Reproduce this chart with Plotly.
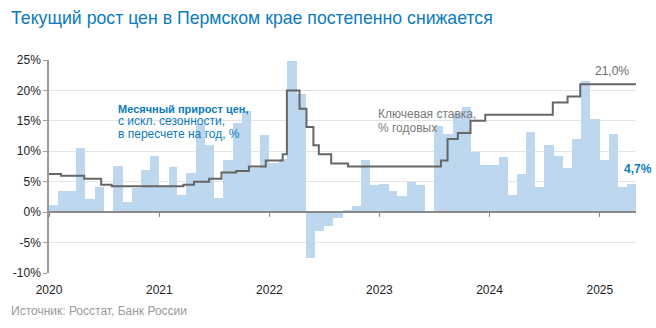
import pandas as pd
import plotly.graph_objects as go

# Monthly price growth, SA, annualized, % (Jan 2020 .. Apr 2025)
months = pd.date_range("2020-01-01", periods=64, freq="MS")
cpi_saar = [
    1.2, 3.5, 3.5, 10.6, 2.1, 4.1, 0.0, 7.6, 1.7, 4.0, 7.0, 9.3,      # 2020
    4.2, 7.4, 2.8, 6.4, 14.5, 11.0, 2.3, 8.6, 14.6, 16.6, 7.2, 12.6,  # 2021
    8.0, 8.7, 24.9, 19.4, -7.6, -3.1, -2.2, -1.0, 0.4, 1.0, 8.5, 4.4, # 2022
    4.7, 3.4, 2.6, 5.0, 4.5, 0.1, 14.1, 12.9, 16.3, 17.3, 9.9, 7.7,   # 2023
    7.8, 9.0, 2.8, 6.3, 13.2, 4.2, 11.1, 9.3, 7.2, 12.1, 21.6, 15.3,  # 2024
    8.5, 12.9, 4.2, 4.7,                                              # 2025
]

# Key rate (change dates and levels), % per annum
rate_dates = ["2020-01-01", "2020-02-10", "2020-04-27", "2020-06-22", "2020-07-27",
              "2021-03-22", "2021-04-26", "2021-06-15", "2021-07-26", "2021-09-13",
              "2021-10-25", "2021-12-20", "2022-02-14", "2022-02-28", "2022-04-11",
              "2022-05-04", "2022-05-27", "2022-06-14", "2022-07-25", "2022-09-19",
              "2023-07-24", "2023-08-15", "2023-09-18", "2023-10-30", "2023-12-18",
              "2024-07-29", "2024-09-16", "2024-10-28", "2025-05-01"]
rate_vals = [6.25, 6.0, 5.5, 4.5, 4.25,
             4.5, 5.0, 5.5, 6.5, 6.75,
             7.5, 8.5, 9.5, 20.0, 17.0,
             14.0, 11.0, 9.5, 8.0, 7.5,
             8.5, 12.0, 13.0, 15.0, 16.0,
             18.0, 19.0, 21.0, 21.0]

y_ticks = [-10, -5, 0, 5, 10, 15, 20, 25]
y_labels = ["-10%", "-5%", "0%", "5%", "10%", "15%", "20%", "25%"]

title = "Текущий рост цен в Пермском крае постепенно снижается"
source = "Источник: Росстат, Банк России"
cpi_label = ["<b>Месячный прирост цен,</b>", "с искл. сезонности,", "в пересчете на год, %"]
rate_label = ["Ключевая ставка,", "% годовых"]

nexts = months + pd.offsets.MonthBegin(1)
mids = months + (nexts - months) / 2
widths = [(n - m).total_seconds() * 1000 for m, n in zip(months, nexts)]

BAR = "#bdd7ee"
LINE = "#666666"
BLUE = "#0b7bbd"
FONT = "Liberation Sans"

# plot area in pixels
L, R, T, B = 49, 20, 60, 55
W, H = 656, 328
PW, PH = W - L - R, H - T - B


def px(x):
    return (x - L) / PW


def py(y):
    return (H - B - y) / PH


fig = go.Figure()
fig.add_trace(go.Bar(x=mids, y=cpi_saar, width=widths, marker=dict(color=BAR, line=dict(width=0)),
                     hoverinfo="skip", showlegend=False))
fig.add_trace(go.Scatter(x=pd.to_datetime(rate_dates), y=rate_vals, mode="lines",
                         line=dict(color=LINE, width=2, shape="hv"), xaxis="x2",
                         hoverinfo="skip", showlegend=False))

x_range = [months[0], nexts[-1]]
fig.update_layout(
    width=W, height=H,
    margin=dict(l=L, r=R, t=T, b=B),
    paper_bgcolor="white", plot_bgcolor="white",
    font=dict(family=FONT, size=12, color="#222"),
    bargap=0,
    xaxis=dict(type="date", range=x_range, tick0="2020-01-01", dtick="M12", tickformat="%Y",
               showgrid=False, zeroline=False, showline=False, ticks="",
               ticklabelstandoff=8, tickfont=dict(size=12, color="#222")),
    xaxis2=dict(type="date", range=x_range, overlaying="x", anchor="free", position=10 / 35,
                tick0="2020-01-01", dtick="M12", showticklabels=False, showgrid=False,
                zeroline=False, showline=True, linecolor="#8a8a8a", linewidth=1.5,
                ticks="outside", ticklen=4, tickcolor="#8a8a8a", layer="above traces"),
    yaxis=dict(range=[-10, 25], tickvals=y_ticks, ticktext=y_labels, showgrid=True,
               gridcolor="#e3e3e3", gridwidth=1, zeroline=False, showline=True,
               linecolor="#9a9a9a", linewidth=1.5, ticks="outside", ticklen=4,
               tickcolor="#9a9a9a", tickfont=dict(size=12, color="#222")),
)

ann = []
ann.append(dict(xref="paper", yref="paper", x=px(9), y=py(18), text=title,
                showarrow=False, xanchor="left", yanchor="middle",
                font=dict(size=17.7, color=BLUE)))
ann.append(dict(xref="paper", yref="paper", x=px(9), y=py(311), text=source,
                showarrow=False, xanchor="left", yanchor="middle",
                font=dict(size=12, color="#9a9a9a")))
for i, t in enumerate(cpi_label):
    ann.append(dict(xref="paper", yref="paper", x=px(117), y=py(108.5 + 12.5 * i), text=t,
                    showarrow=False, xanchor="left", yanchor="middle", borderpad=0,
                    font=dict(size=11 if i == 0 else 12, color=BLUE)))
for i, t in enumerate(rate_label):
    ann.append(dict(xref="paper", yref="paper", x=px(377), y=py(114 + 13.5 * i), text=t,
                    showarrow=False, xanchor="left", yanchor="middle", borderpad=0,
                    font=dict(size=12, color="#7a7a7a")))
ann.append(dict(xref="x", yref="paper", x=nexts[-1], y=py(71),
                text="21,0%", showarrow=False, xanchor="right", yanchor="middle", xshift=-5,
                font=dict(size=12, color="#6a6a6a")))
ann.append(dict(xref="x", yref="paper", x=nexts[-1], y=py(169),
                text="<b>4,7%</b>", showarrow=False, xanchor="center", yanchor="middle",
                xshift=2, font=dict(size=12, color=BLUE)))
fig.update_layout(annotations=ann)

fig.write_html("out.html")
